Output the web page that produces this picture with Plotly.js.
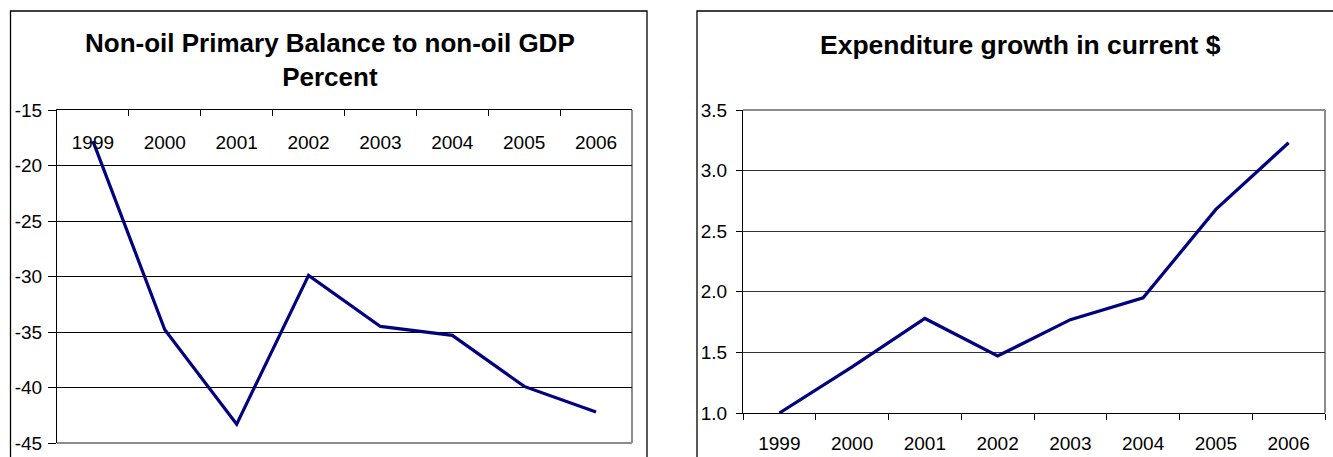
<!DOCTYPE html>
<html>
<head>
<meta charset="utf-8">
<script src="https://cdn.plot.ly/plotly-3.0.1.min.js"></script>
<style>html,body{margin:0;padding:0;background:#fff;}#chart{width:1333px;height:457px;}</style>
</head>
<body>
<div id="chart"></div>
<script>
const years = ["1999","2000","2001","2002","2003","2004","2005","2006"];
const nonOilBalance = [-17.8, -34.8, -43.3, -29.9, -34.5, -35.3, -39.9, -42.2];
const expenditureGrowth = [1.0, 1.38, 1.78, 1.47, 1.77, 1.95, 2.68, 3.23];
const leftTickVals = [-45, -40, -35, -30, -25, -20, -15];
const leftTickText = ["-45", "-40", "-35", "-30", "-25", "-20", "-15"];
const leftTitle = "Non-oil Primary Balance to non-oil GDP<br>Percent";
const rightTitle = "Expenditure growth in current $";

const W = 1333, H = 457;
const px = v => v / W;
const py = v => 1 - v / H;
const FONT = "Liberation Sans, Arial, sans-serif";
const NAVY = "#000080";

const traces = [
  {x: years, y: nonOilBalance, type: "scatter", mode: "lines", xaxis: "x", yaxis: "y",
   line: {color: NAVY, width: 3.2}},
  {x: years, y: expenditureGrowth, type: "scatter", mode: "lines", xaxis: "x2", yaxis: "y2",
   line: {color: NAVY, width: 3.2}}
];

const tickFont = {family: FONT, size: 19, color: "#000"};

const layout = {
  width: W, height: H,
  margin: {l: 0, r: 0, t: 0, b: 0},
  paper_bgcolor: "#fff", plot_bgcolor: "#fff",
  showlegend: false, hovermode: false,
  font: {family: FONT, color: "#000"},
  xaxis: {
    domain: [px(57), px(632)], anchor: "y", type: "category", side: "top",
    range: [-0.5, 7.5], showgrid: false, zeroline: false,
    showline: true, linecolor: "#000", linewidth: 1,
    ticks: "inside", ticklen: 6, tickcolor: "#000", tickson: "boundaries",
    ticklabelstandoff: -48, tickfont: tickFont
  },
  yaxis: {
    domain: [py(443), py(110)], anchor: "x", range: [-45, -15],
    tickmode: "array", tickvals: leftTickVals, ticktext: leftTickText,
    showgrid: true, gridcolor: "#000", gridwidth: 1, zeroline: false,
    showline: true, linecolor: "#000", linewidth: 1,
    ticks: "outside", ticklen: 8, tickcolor: "#000", ticklabelstandoff: 2, tickfont: tickFont
  },
  xaxis2: {
    domain: [px(743), px(1325)], anchor: "y2", type: "category",
    range: [-0.5, 7.5], showgrid: false, zeroline: false,
    showline: true, linecolor: "#000", linewidth: 1,
    ticks: "outside", ticklen: 6, tickcolor: "#000", tickson: "boundaries",
    ticklabelstandoff: 13, tickfont: tickFont
  },
  yaxis2: {
    domain: [py(413), py(110)], anchor: "x2", range: [1.0, 3.5], dtick: 0.5, tick0: 1.0,
    tickformat: ".1f",
    showgrid: true, gridcolor: "#333", gridwidth: 1, zeroline: false,
    showline: true, linecolor: "#000", linewidth: 1,
    ticks: "outside", ticklen: 6, tickcolor: "#000", ticklabelstandoff: 5, tickfont: tickFont
  },
  shapes: [
    {type: "rect", xref: "paper", yref: "paper", x0: px(10.5), x1: px(647), y0: -0.2, y1: py(11),
     line: {color: "#000", width: 1.3}, layer: "below"},
    {type: "rect", xref: "paper", yref: "paper", x0: px(697), x1: px(1340), y0: -0.2, y1: py(11),
     line: {color: "#000", width: 1.3}, layer: "below"},
    {type: "line", xref: "x domain", yref: "y domain", x0: 1, x1: 1, y0: 0, y1: 1,
     line: {color: "#8c8c8c", width: 2}, layer: "below"},
    {type: "line", xref: "x domain", yref: "y domain", x0: 0, x1: 1, y0: 0, y1: 0,
     line: {color: "#8c8c8c", width: 2}, layer: "below"},
    {type: "line", xref: "x2 domain", yref: "y2 domain", x0: 1, x1: 1, y0: 0, y1: 1,
     line: {color: "#8c8c8c", width: 2}, layer: "below"},
    {type: "line", xref: "x2 domain", yref: "y2 domain", x0: 0, x1: 1, y0: 1, y1: 1,
     line: {color: "#8c8c8c", width: 2}, layer: "below"}
  ],
  annotations: [
    {text: "<b>" + leftTitle + "</b>", xref: "paper", yref: "paper", x: px(330), y: py(60),
     xanchor: "center", yanchor: "middle", showarrow: false,
     font: {family: FONT, size: 26, color: "#000"}},
    {text: "<b>" + rightTitle + "</b>", xref: "paper", yref: "paper", x: px(1020), y: py(45),
     xanchor: "center", yanchor: "middle", showarrow: false,
     font: {family: FONT, size: 26.5, color: "#000"}}
  ]
};

Plotly.newPlot("chart", traces, layout, {staticPlot: true, displayModeBar: false});
</script>
</body>
</html>
